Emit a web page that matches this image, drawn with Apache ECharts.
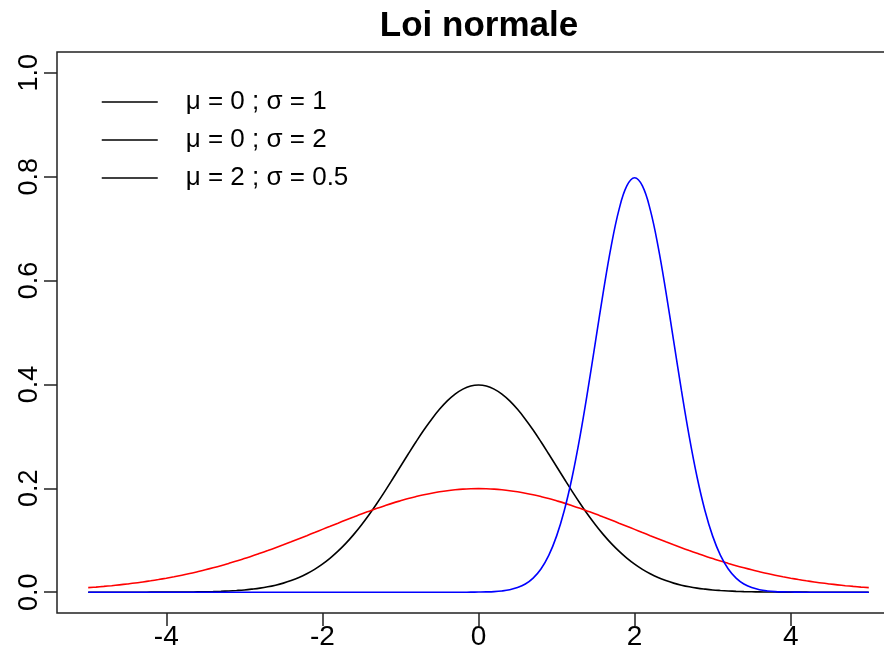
<!DOCTYPE html>
<html>
<head>
<meta charset="utf-8">
<script src="https://cdn.jsdelivr.net/npm/echarts@6/dist/echarts.min.js"></script>
<style>html,body{margin:0;padding:0;background:#fff}#c{width:884px;height:650px}</style>
</head>
<body>
<div id="c"></div>
<script>
const titleText = "Loi normale";
const seriesNames = ["\u03bc = 0 ; \u03c3 = 1", "\u03bc = 0 ; \u03c3 = 2", "\u03bc = 2 ; \u03c3 = 0.5"];
const xTicks = [-4, -2, 0, 2, 4];
const yTicks = [0, 0.2, 0.4, 0.6, 0.8, 1.0];

const xs = [-5.0,-4.9,-4.8,-4.7,-4.6,-4.5,-4.4,-4.3,-4.2,-4.1,
-4.0,-3.9,-3.8,-3.7,-3.6,-3.5,-3.4,-3.3,-3.2,-3.1,
-3.0,-2.9,-2.8,-2.7,-2.6,-2.5,-2.4,-2.3,-2.2,-2.1,
-2.0,-1.9,-1.8,-1.7,-1.6,-1.5,-1.4,-1.3,-1.2,-1.1,
-1.0,-0.9,-0.8,-0.7,-0.6,-0.5,-0.4,-0.3,-0.2,-0.1,
0.0,0.1,0.2,0.3,0.4,0.5,0.6,0.7,0.8,0.9,
1.0,1.1,1.2,1.3,1.4,1.5,1.6,1.7,1.8,1.9,
2.0,2.1,2.2,2.3,2.4,2.5,2.6,2.7,2.8,2.9,
3.0,3.1,3.2,3.3,3.4,3.5,3.6,3.7,3.8,3.9,
4.0,4.1,4.2,4.3,4.4,4.5,4.6,4.7,4.8,4.9,5.0];

const blackVals = [0,0,0,0,0,0,0,0,0.0001,0.0001,
0.0001,0.0002,0.0003,0.0004,0.0006,0.0009,0.0012,0.0017,0.0024,0.0033,
0.0044,0.0060,0.0079,0.0104,0.0136,0.0175,0.0224,0.0283,0.0355,0.0440,
0.0540,0.0656,0.0790,0.0940,0.1109,0.1295,0.1497,0.1714,0.1942,0.2179,
0.2420,0.2661,0.2897,0.3123,0.3332,0.3521,0.3683,0.3814,0.3910,0.3970,
0.3989,
0.3970,0.3910,0.3814,0.3683,0.3521,0.3332,0.3123,0.2897,0.2661,0.2420,
0.2179,0.1942,0.1714,0.1497,0.1295,0.1109,0.0940,0.0790,0.0656,0.0540,
0.0440,0.0355,0.0283,0.0224,0.0175,0.0136,0.0104,0.0079,0.0060,0.0044,
0.0033,0.0024,0.0017,0.0012,0.0009,0.0006,0.0004,0.0003,0.0002,0.0001,
0.0001,0.0001,0,0,0,0,0,0,0,0];

const redVals = [0.0088,0.0099,0.0112,0.0126,0.0142,0.0159,0.0177,0.0198,0.0220,0.0244,
0.0270,0.0298,0.0328,0.0360,0.0395,0.0431,0.0470,0.0511,0.0555,0.0600,
0.0648,0.0697,0.0749,0.0802,0.0857,0.0913,0.0971,0.1030,0.1089,0.1149,
0.1210,0.1270,0.1330,0.1390,0.1448,0.1506,0.1561,0.1615,0.1666,0.1715,
0.1760,0.1803,0.1841,0.1876,0.1907,0.1933,0.1955,0.1972,0.1985,0.1992,
0.1995,
0.1992,0.1985,0.1972,0.1955,0.1933,0.1907,0.1876,0.1841,0.1803,0.1760,
0.1715,0.1666,0.1615,0.1561,0.1506,0.1448,0.1390,0.1330,0.1270,0.1210,
0.1149,0.1089,0.1030,0.0971,0.0913,0.0857,0.0802,0.0749,0.0697,0.0648,
0.0600,0.0555,0.0511,0.0470,0.0431,0.0395,0.0360,0.0328,0.0298,0.0270,
0.0244,0.0220,0.0198,0.0177,0.0159,0.0142,0.0126,0.0112,0.0099,0.0088];

const blueVals = [0,0,0,0,0,0,0,0,0,0,
0,0,0,0,0,0,0,0,0,0,
0,0,0,0,0,0,0,0,0,0,
0,0,0,0,0,0,0,0,0,0,
0,0,0,0,0,0,0,0,0,0.0001,
0.0003,0.0006,0.0012,0.0025,0.0048,0.0089,0.0158,0.0272,0.0448,0.0709,
0.1080,0.1579,0.2218,0.2995,0.3884,0.4839,0.5794,0.6664,0.7365,0.7821,
0.7979,0.7821,0.7365,0.6664,0.5794,0.4839,0.3884,0.2995,0.2218,0.1579,
0.1080,0.0709,0.0448,0.0272,0.0158,0.0089,0.0048,0.0025,0.0012,0.0006,
0.0003,0.0001,0,0,0,0,0,0,0,0,0];

const colors = ["#000000", "#ff0000", "#0000ff"];
const allVals = [blackVals, redVals, blueVals];

const chart = echarts.init(document.getElementById('c'), null, {renderer: 'canvas'});
const FONT = "'Liberation Sans', Arial, Helvetica, sans-serif";

chart.setOption({
  animation: false,
  backgroundColor: '#ffffff',
  title: {
    text: titleText,
    left: 474,
    textAlign: 'center',
    top: 4,
    textStyle: {fontFamily: FONT, fontWeight: 'bold', fontSize: 35, color: '#000'}
  },
  legend: {
    orient: 'vertical',
    left: 101,
    top: 88,
    padding: 0,
    itemWidth: 56,
    itemHeight: 28,
    itemGap: 10,
    lineStyle: {color: '#000', width: 1.5},
    itemStyle: {opacity: 0},
    textStyle: {fontFamily: FONT, fontSize: 26, color: '#000', padding: [0, 0, 0, 23], lineHeight: 28},
    data: seriesNames.map(n => ({name: n}))
  },
  grid: {
    left: 57, top: 52, width: 843, height: 561,
    outerBoundsMode: 'none',
    containLabel: false,
    show: true, borderColor: '#222', borderWidth: 1.5, backgroundColor: 'transparent'
  },
  xAxis: {
    type: 'value', min: -5.4, max: 5.4,
    splitLine: {show: false},
    axisLine: {show: false, onZero: false},
    axisTick: {show: true, inside: false, length: 13, lineStyle: {color: '#222', width: 1.5}, customValues: xTicks},
    axisLabel: {show: true, customValues: xTicks, margin: 10, fontFamily: FONT, fontSize: 28, color: '#000',
      formatter: v => String(v)}
  },
  yAxis: {
    type: 'value', min: -0.04, max: 1.04,
    splitLine: {show: false},
    axisLine: {show: false, onZero: false},
    axisTick: {show: true, length: 13, lineStyle: {color: '#222', width: 1.5}, customValues: yTicks},
    axisLabel: {show: true, customValues: yTicks, rotate: 90, margin: 14, fontFamily: FONT, fontSize: 27, color: '#000',
      formatter: v => v.toFixed(1)}
  },
  series: seriesNames.map((n, k) => ({
    name: n,
    type: 'line',
    symbol: 'none',
    showSymbol: false,
    smooth: 0.4,
    lineStyle: {color: colors[k], width: 1.6},
    itemStyle: {color: colors[k]},
    data: xs.map((x, i) => [x, allVals[k][i]]),
    z: 3
  }))
});
</script>
</body>
</html>
